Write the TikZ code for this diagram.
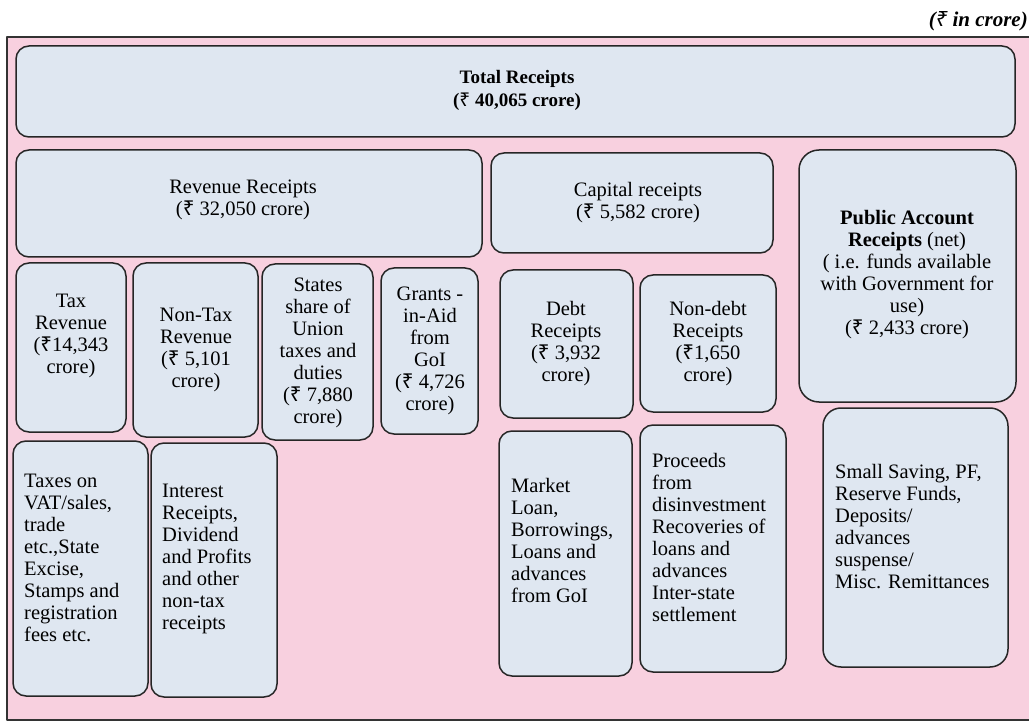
\documentclass[tikz,border=0pt]{standalone}
\usepackage{fontspec}
\setmainfont{Liberation Serif}
\newfontfamily\rupeefont{Noto Sans}
\newcommand{\rs}{{\rupeefont ₹}}
\definecolor{pinkbg}{RGB}{248,208,223}
\definecolor{boxfill}{RGB}{223,231,241}
\tikzset{
  box/.style={draw=black!85, fill=boxfill, line width=1.5pt, rounded corners=13pt},
  txt/.style={inner sep=0pt, font=\fontsize{20.5}{22}\selectfont},
}
\begin{document}
\begin{tikzpicture}[x=1pt, y=-1pt, line join=round]
	\useasboundingbox (0,0) rectangle (1029,722);
	\clip (0,0) rectangle (1029,722);
	\node[txt, anchor=east, font=\fontsize{21}{22}\selectfont\bfseries\itshape] (unit) at (1028,21) {(\rs{} in crore)};
	% background
	\draw[fill=pinkbg, draw=black!80, line width=1.5pt] (7,37) rectangle (1045,720);
	% boxes
	\draw[box] (16,46) rectangle (1015,137);
	\draw[box] (16,150) rectangle (482,257);
	\draw[box] (491,153) rectangle (773,253);
	\draw[box, rounded corners=20pt] (799,150) rectangle (1016,402);
	\draw[box] (16,263) rectangle (126,432);
	\draw[box] (133,263) rectangle (258,437);
	\draw[box] (262,264) rectangle (373,440);
	\draw[box] (381,268) rectangle (478,434);
	\draw[box] (500,270) rectangle (633,418);
	\draw[box] (640,275) rectangle (776,412);
	\draw[box] (13,441) rectangle (148,696);
	\draw[box] (151,443) rectangle (277,697);
	\draw[box] (499,431) rectangle (632,676);
	\draw[box] (640,425) rectangle (786,672);
	\draw[box, rounded corners=18pt] (823,408) rectangle (1008,667);
	% texts
	\node[txt, align=center, font=\fontsize{19}{23}\selectfont\bfseries] (total) at (517,90) {Total Receipts\\(\rs{} 40,065 crore)};
	\node[txt, align=center] (revenue) at (243,200) {Revenue Receipts\\(\rs{} 32,050 crore)};
	\node[txt, align=center] (capital) at (638,203) {Capital receipts\\(\rs{} 5,582 crore)};
	\node[txt, align=center] (public) at (907,275) {\textbf{Public Account}\\\textbf{Receipts} (net)\\( i.e. funds available\\with Government for\\use)\\(\rs{} 2,433 crore)};
	\node[txt, align=center] (taxrev) at (71,336) {Tax\\Revenue\\(\rs14,343\\crore)};
	\node[txt, align=center] (nontax) at (196,350) {Non-Tax\\Revenue\\(\rs{} 5,101\\crore)};
	\node[txt, align=center] (share) at (318,353) {States\\share of\\Union\\taxes and\\duties\\(\rs{} 7,880\\crore)};
	\node[txt, align=center] (grants) at (430,351) {Grants -\\in-Aid\\from\\GoI\\(\rs{} 4,726\\crore)};
	\node[txt, align=center] (debt) at (566,344) {Debt\\Receipts\\(\rs{} 3,932\\crore)};
	\node[txt, align=center] (nondebt) at (708,344) {Non-debt\\Receipts\\(\rs1,650\\crore)};
	\node[txt, align=left, anchor=west] (taxitems) at (24,558) {Taxes on\\VAT/sales,\\trade\\etc.,State\\Excise,\\Stamps and\\registration\\fees etc.};
	\node[txt, align=left, anchor=west] (nontaxitems) at (162,559) {Interest\\Receipts,\\Dividend\\and Profits\\and other\\non-tax\\receipts};
	\node[txt, align=left, anchor=west] (debtitems) at (511,540) {Market\\Loan,\\Borrowings,\\Loans and\\advances\\from GoI};
	\node[txt, align=left, anchor=west] (nondebtitems) at (652,537) {Proceeds\\from\\disinvestment\\Recoveries of\\loans and\\advances\\Inter-state\\settlement};
	\node[txt, align=left, anchor=west] (publicitems) at (835,527) {Small Saving, PF,\\Reserve Funds,\\Deposits/\\advances\\suspense/\\Misc. Remittances};
\end{tikzpicture}
\end{document}
